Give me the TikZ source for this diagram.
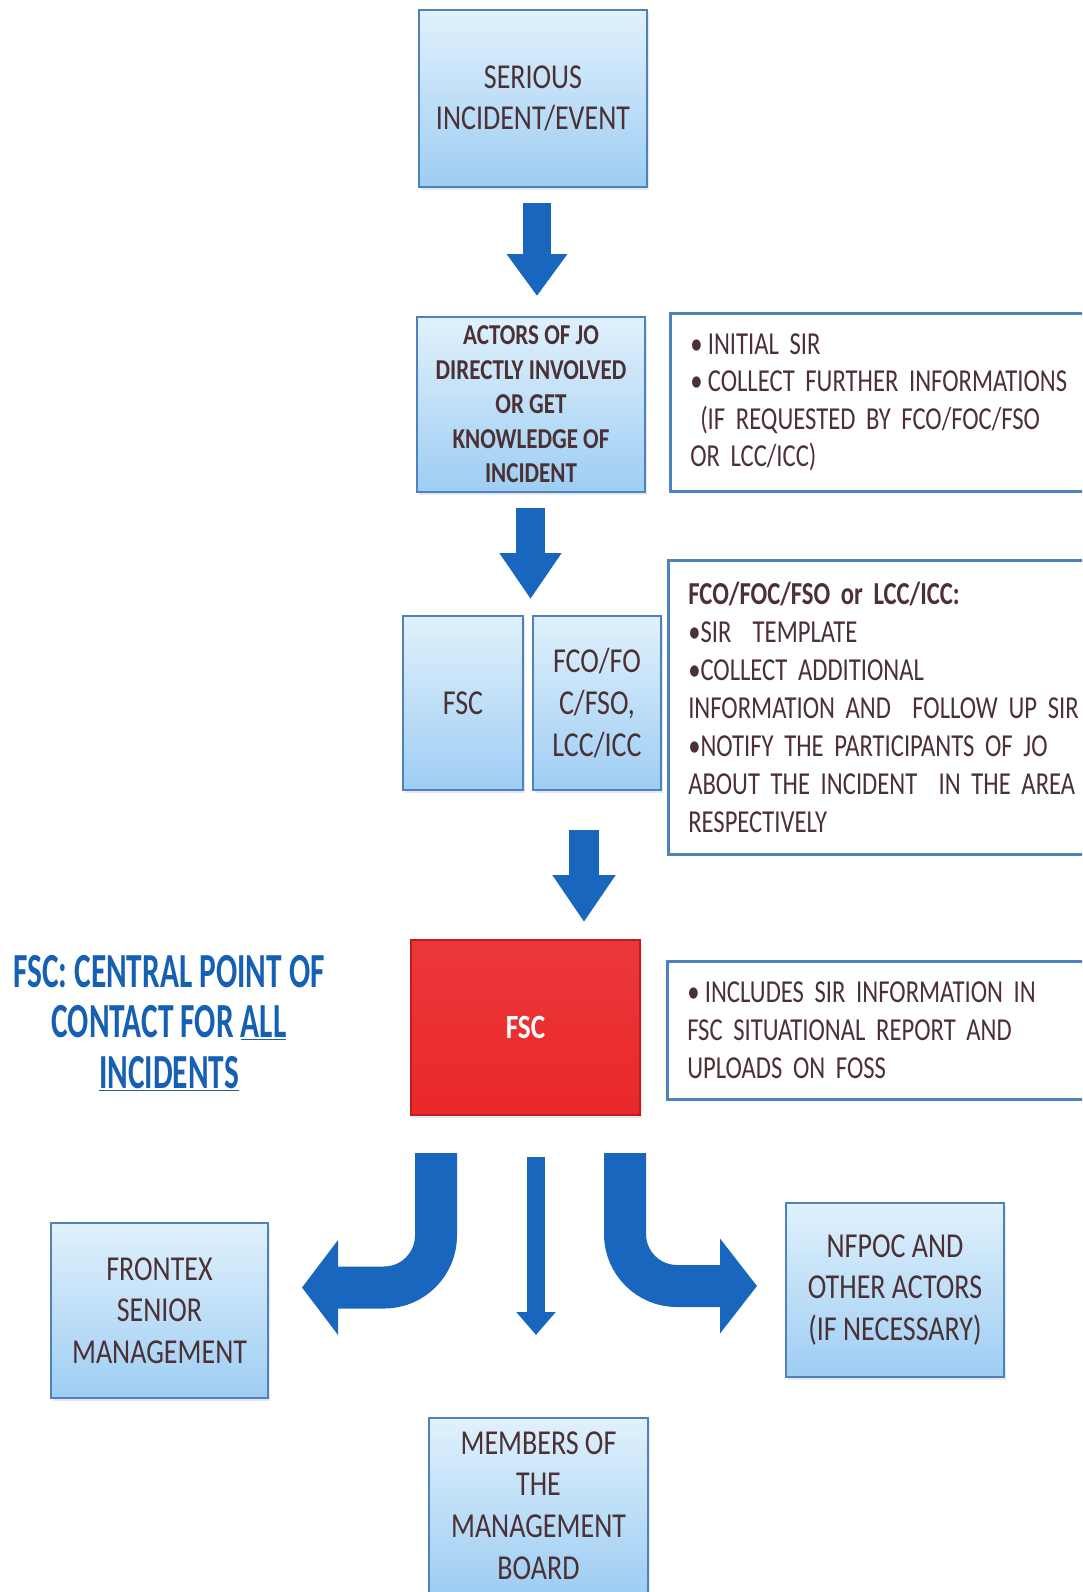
\documentclass[tikz,border=0pt]{standalone}
\usepackage{fontspec}
\setmainfont{Carlito}[FakeStretch=0.8]
\newfontfamily\etroit{Carlito}[FakeStretch=0.64]
\newfontfamily\liste{Carlito}[FakeStretch=0.77]
\newcommand\espaces{\spaceskip=6.5pt plus 2pt\relax}
\usetikzlibrary{arrows.meta,shadows}
\definecolor{bleuhaut}{RGB}{224,241,252}
\definecolor{bleubas}{RGB}{158,205,243}
\definecolor{bord}{RGB}{79,129,189}
\definecolor{bleufleche}{RGB}{24,102,190}
\definecolor{rouge}{RGB}{234,40,42}
\definecolor{rougefonce}{RGB}{190,30,30}
\definecolor{texte}{RGB}{75,48,52}
\definecolor{titre}{RGB}{22,96,180}
\tikzset{
  boite/.style={draw=bord, line width=2.5pt, top color=bleuhaut, bottom color=bleubas,
    text=texte, align=center, inner sep=0pt, font=\fontsize{35}{41.6}\selectfont,
    drop shadow={opacity=0.18, shadow xshift=2pt, shadow yshift=-3pt}},
  cadre/.style={draw=bord, line width=2.5pt, fill=white, text=texte, align=left,
    inner xsep=20pt, inner ysep=0pt, anchor=north west,
    font=\liste\fontsize{32}{37.6}\selectfont\espaces},
  grossefleche/.style={draw=bleufleche}
}
\begin{document}
\begin{tikzpicture}[x=1pt,y=-1pt]
\useasboundingbox (0,0) rectangle (1082,1592);
\fill[white] (0,0) rectangle (1082,1592);
\clip (0,0) rectangle (1082,1592);
%boites
\node[boite, minimum width=228pt, minimum height=177pt] (serious) at (533,98.5) {SERIOUS\\INCIDENT/EVENT};
\node[boite, minimum width=228pt, minimum height=175pt, font=\bfseries\fontsize{28.8}{34.5}\selectfont] (acteurs) at (531,404.5)
  {ACTORS OF JO\\DIRECTLY INVOLVED\\OR GET\\KNOWLEDGE OF\\INCIDENT};
\node[cadre, minimum width=431pt, minimum height=178pt, text width=420pt] (infoA) at (669,312)
  {•\,INITIAL SIR\\•\,COLLECT FURTHER INFORMATIONS\\\hspace*{10pt}(IF REQUESTED BY FCO/FOC/FSO\\OR LCC/ICC)};
\node[boite, minimum width=120pt, minimum height=174pt] (fscA) at (463,703) {FSC};
\node[boite, minimum width=128pt, minimum height=174pt] (fco) at (597,703) {FCO/FO\\C/FSO,\\LCC/ICC};
\node[cadre, minimum width=433pt, minimum height=294pt, text width=420pt, font=\liste\fontsize{32}{38}\selectfont\espaces] (infoB) at (667,559)
  {\textbf{FCO/FOC/FSO or LCC/ICC:}\\•SIR\ \ TEMPLATE\\•COLLECT ADDITIONAL\\INFORMATION AND\ \ FOLLOW UP SIR\\%
   •NOTIFY THE PARTICIPANTS OF JO\\ABOUT THE INCIDENT\ \ IN THE AREA\\RESPECTIVELY};
\node[boite, fill=rouge, top color=rouge!93!white, bottom color=rouge, draw=rougefonce, text=white,
  font=\bfseries\fontsize{34}{40}\selectfont, minimum width=229pt, minimum height=175pt] (fsc) at (525.5,1027.5) {FSC};
\node[cadre, minimum width=434pt, minimum height=138pt, text width=420pt, font=\liste\fontsize{32}{38}\selectfont\espaces] (infoC) at (666,960)
  {•\,INCLUDES SIR INFORMATION IN\\FSC SITUATIONAL REPORT AND\\UPLOADS ON FOSS};
\node[text=titre, align=center, font=\etroit\bfseries\fontsize{49}{50.75}\selectfont] (point) at (169,1023)
  {FSC: CENTRAL POINT OF\\CONTACT FOR \underline{ALL}\\\underline{INCIDENTS}};
\node[boite, minimum width=217pt, minimum height=175pt] (frontex) at (159.5,1310.5) {FRONTEX\\SENIOR\\MANAGEMENT};
\node[boite, minimum width=218pt, minimum height=174pt] (nfpoc) at (895,1290) {NFPOC AND\\OTHER ACTORS\\(IF NECESSARY)};
\node[boite, minimum width=219pt, minimum height=175pt] (membres) at (538.5,1505.5) {MEMBERS OF\\THE\\MANAGEMENT\\BOARD};
%fleches
\coordinate (f1h) at (537,203); \coordinate (f1b) at (537,296);
\coordinate (f2h) at (530.5,508); \coordinate (f2b) at (530.5,599);
\coordinate (f3h) at (584,830); \coordinate (f3b) at (584,922);
\draw[grossefleche, line width=28pt, -{Triangle[width=58pt,length=42pt]}] (f1h) -- (f1b);
\draw[grossefleche, line width=29pt, -{Triangle[width=59pt,length=46pt]}] (f2h) -- (f2b);
\draw[grossefleche, line width=30pt, -{Triangle[width=60pt,length=47pt]}] (f3h) -- (f3b);
%vers le bas
\coordinate (g1) at (436,1153); \coordinate (g2) at (302,1287.5);
\coordinate (m1) at (536,1157); \coordinate (m2) at (536,1335);
\coordinate (d1) at (625,1153); \coordinate (d2) at (757,1286);
\draw[grossefleche, line width=42pt, rounded corners=52pt, -{Triangle[width=93pt,length=36pt]}] (g1) |- (g2);
\draw[grossefleche, line width=18pt, -{Triangle[width=38pt,length=23pt]}] (m1) -- (m2);
\draw[grossefleche, line width=42pt, rounded corners=52pt, -{Triangle[width=93pt,length=37pt]}] (d1) |- (d2);
%fin
\end{tikzpicture}
\end{document}
